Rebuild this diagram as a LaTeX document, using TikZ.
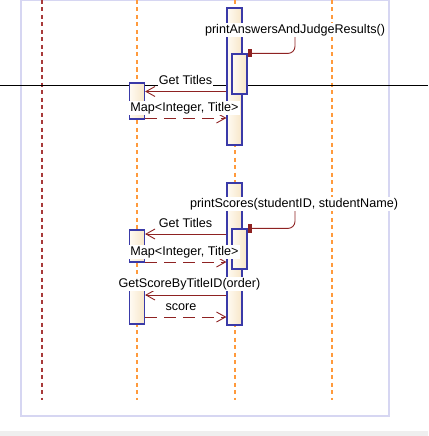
\documentclass[tikz,border=0pt]{standalone}
\usepackage{fontspec}
\setmainfont{Liberation Sans}
\usetikzlibrary{arrows.meta, positioning, calc}
\definecolor{msgred}{HTML}{8E2222}
\definecolor{actblue}{HTML}{3A3AA8}
\definecolor{actlight}{HTML}{FFFBF3}
\definecolor{actdark}{HTML}{F7E6C8}
\definecolor{lifeorange}{HTML}{FF9A3C}
\definecolor{lifered}{HTML}{A83A3A}
\definecolor{framelav}{HTML}{D6D6F2}
\definecolor{bandgray}{HTML}{EFEFEF}

\begin{document}
\begin{tikzpicture}[
  x=1pt, y=-1pt,
  act/.style={draw=actblue, line width=1.2pt, left color=actlight, right color=actdark, minimum width=15pt, inner sep=0pt},
  lbl/.style={fill=white, inner sep=1pt, font=\fontsize{12.6}{14}\selectfont},
  msg/.style={draw=msgred, line width=0.9pt, -{Straight Barb[length=9pt,width=10pt]}},
  ret/.style={msg, dash pattern=on 12pt off 7pt},
  selfcall/.style={draw=msgred, line width=0.9pt, rounded corners=7pt, -{Rectangle[length=4pt,width=8pt]}},
  life/.style={line width=1.5pt, draw=lifeorange, dash pattern=on 4pt off 3.5pt}
]
  \useasboundingbox (0,0) rectangle (428,436);
  \fill[bandgray] (0,431) rectangle (428,436);
  \draw[framelav, line width=1.2pt] (21,0) rectangle (389,416);

  % lifelines
  \coordinate (ll1) at (42,0);
  \coordinate (ll2) at (137,0);
  \coordinate (ll3) at (235,0);
  \coordinate (ll4) at (332,0);
  \draw[life, draw=lifered, line width=2pt] (ll1) -- ++(0,400);
  \draw[life] (ll2) -- ++(0,400);
  \draw[life] (ll3) -- ++(0,400);
  \draw[life] (ll4) -- ++(0,400);

  \draw[black, line width=1pt] (0,85.5) -- (428,85.5);

  % activations
  \node[act, minimum height=137pt] (main1) at (234.5,76.5) {};
  \node[act, minimum height=40pt] (nest1) at (239.5,74) {};
  \node[act, minimum height=36pt] (left1) at (137,101) {};
  \node[act, minimum height=142pt] (main2) at (234.5,254) {};
  \node[act, minimum height=40pt] (nest2) at (239.5,249) {};
  \node[act, minimum height=32pt] (left2) at (137,246) {};
  \node[act, minimum height=42pt] (left3) at (137,303) {};

  % message levels
  \coordinate (m1) at (0,91.5);
  \coordinate (m2) at (0,118);
  \coordinate (m3) at (0,234);
  \coordinate (m4) at (0,262);
  \coordinate (m5) at (0,295);
  \coordinate (m6) at (0,317);

  \draw[msg] (main1.west |- m1) -- (left1.east |- m1);
  \draw[ret] (left1.east |- m2) -- (main1.west |- m2);
  \draw[msg] (main2.west |- m3) -- (left2.east |- m3);
  \draw[ret] (left2.east |- m4) -- (main2.west |- m4);
  \draw[msg] (main2.west |- m5) -- (left3.east |- m5);
  \draw[ret] (left3.east |- m6) -- (main2.west |- m6);

  % labels
  \node[lbl] (pajr) at (295,30) {printAnswersAndJudgeResults()};
  \node[lbl] (gt1) at (185.5,80) {Get Titles};
  \node[lbl] (map1) at (184.5,108) {Map<Integer, Title>};
  \node[lbl] (ps) at (294,204) {printScores(studentID, studentName)};
  \node[lbl] (gt2) at (185.5,223) {Get Titles};
  \node[lbl] (map2) at (184.5,252) {Map<Integer, Title>};
  \node[lbl] (gs) at (189.5,284) {GetScoreByTitleID(order)};
  \node[lbl] (sc) at (181,307) {score};

  \draw[selfcall] (pajr.south) |- (nest1.north east);
  \draw[selfcall] (ps.south -| pajr.south) |- (nest2.north east);
\end{tikzpicture}
\end{document}
